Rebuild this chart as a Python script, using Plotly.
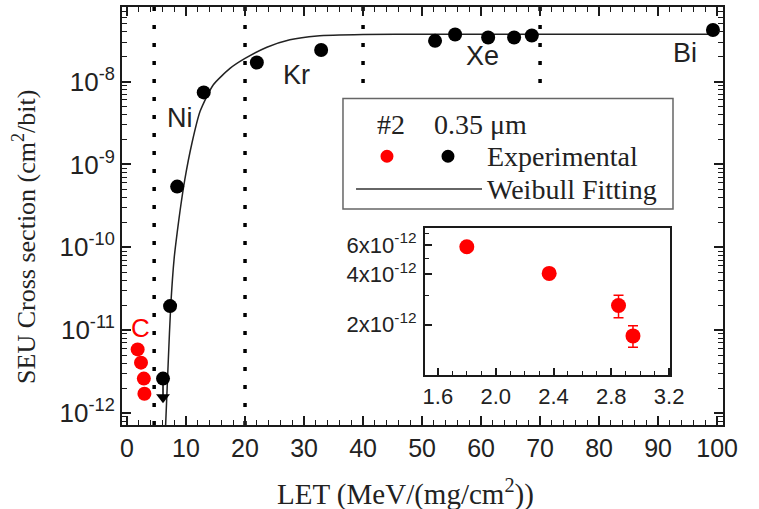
import plotly.graph_objects as go

# ---------------- data ----------------
# Black experimental points (0.35 um device)
black_let = [7.3, 8.5, 13.0, 22.0, 32.9, 52.2, 55.6, 61.2, 65.6, 68.6, 99.3]
black_sigma = [1.95e-11, 5.4e-10, 7.4e-9, 1.7e-8, 2.4e-8, 3.1e-8, 3.7e-8, 3.4e-8, 3.4e-8, 3.6e-8, 4.2e-8]

# Upper-limit point (point with downward arrow)
limit_let = [6.1]
limit_sigma = [2.6e-12]
limit_arrow_sigma = [1.55e-12]

# Red (#2, carbon) points
red_let = [1.80, 2.37, 2.85, 2.95]
red_sigma = [5.85e-12, 4.05e-12, 2.6e-12, 1.71e-12]
red_err_plus = [0.0, 0.0, 0.4e-12, 0.26e-12]
red_err_minus = [0.0, 0.0, 0.4e-12, 0.25e-12]

# Weibull fitting curve
fit_let = [6.5, 7.0, 7.4, 8.0, 8.5, 9.0, 9.8, 11.0, 12.4, 14.6, 17.5, 20.0, 23.7, 27.6, 32.2, 40.0, 50.0, 100.0]
fit_sigma = [6.0e-13, 4.4e-12, 1.9e-11, 7.5e-11, 1.5e-10, 2.8e-10, 6.6e-10, 1.8e-9, 4.4e-9,
             9.1e-9, 1.45e-8, 1.9e-8, 2.6e-8, 3.2e-8, 3.56e-8, 3.7e-8, 3.72e-8, 3.72e-8]

# Ion regions
ion_boundaries = [4.6, 20.0, 40.0, 70.0]
ion_labels = ["Ni", "Kr", "Xe", "Bi"]

# Tick labels
main_y_tickvals = [1e-12, 1e-11, 1e-10, 1e-9, 1e-8]
main_y_ticktext = ["10<sup>-12</sup>", "10<sup>-11</sup>", "10<sup>-10</sup>", "10<sup>-9</sup>", "10<sup>-8</sup>"]
inset_y_tickvals = [2e-12, 4e-12, 6e-12]
inset_y_ticktext = ["2x10<sup>-12</sup>", "4x10<sup>-12</sup>", "6x10<sup>-12</sup>"]

SERIF = "Liberation Serif"
SANS = "Liberation Sans"
AX = "#1a1a1a"

fig = go.Figure()

# Weibull fit
fig.add_trace(go.Scatter(x=fit_let, y=fit_sigma, mode="lines",
                         line=dict(color="#222222", width=1.5, shape="spline", smoothing=0.6),
                         showlegend=False, xaxis="x", yaxis="y"))
# Upper limit arrow
fig.add_trace(go.Scatter(x=limit_let * 2, y=limit_sigma + limit_arrow_sigma, mode="lines",
                         line=dict(color="black", width=1.5), showlegend=False))
fig.add_trace(go.Scatter(x=limit_let, y=limit_arrow_sigma, mode="markers",
                         marker=dict(symbol="triangle-down", size=12, color="black"), showlegend=False))
fig.add_trace(go.Scatter(x=limit_let, y=limit_sigma, mode="markers",
                         marker=dict(size=14, color="black"), showlegend=False))
# Black points
fig.add_trace(go.Scatter(x=black_let, y=black_sigma, mode="markers",
                         marker=dict(size=14, color="black"), showlegend=False))
# Red points in main plot
fig.add_trace(go.Scatter(x=red_let, y=red_sigma, mode="markers",
                         marker=dict(size=14, color="#ff0000"), showlegend=False))
# Inset red points
fig.add_trace(go.Scatter(x=red_let, y=red_sigma, mode="markers",
                         marker=dict(size=15, color="#ff0000"),
                         error_y=dict(type="data", array=red_err_plus, arrayminus=red_err_minus,
                                      color="#ff0000", thickness=1.5, width=5),
                         showlegend=False, xaxis="x2", yaxis="y2"))

# Minor ticks for log axes
minor_vals = [k * 10.0 ** d for d in range(-13, -7) for k in range(2, 10)]
inset_minor = [k * 1e-12 for k in (1, 3, 5, 7)]

fig.update_layout(
    width=759, height=509,
    margin=dict(l=122, r=36, t=5, b=84),
    paper_bgcolor="white", plot_bgcolor="white",
    showlegend=False,
    xaxis=dict(range=[-0.85, 101.0], domain=[0, 1], tickmode="linear", tick0=0, dtick=10,
               ticks="inside", ticklen=9, tickwidth=1.5, tickcolor=AX,
               minor=dict(dtick=2, ticks="inside", ticklen=5, tickwidth=1.2, tickcolor=AX),
               showline=True, linecolor=AX, linewidth=2, mirror="ticks",
               showgrid=False, zeroline=False, ticklabelstandoff=0,
               tickfont=dict(family=SANS, size=25, color="#222")),
    yaxis=dict(type="log", range=[-12.145, -7.1], domain=[0, 1],
               tickmode="array", tickvals=main_y_tickvals, ticktext=main_y_ticktext,
               ticks="inside", ticklen=9, tickwidth=1.5, tickcolor=AX,
               minor=dict(tickvals=minor_vals, ticks="inside", ticklen=5, tickwidth=1.2, tickcolor=AX),
               showline=True, linecolor=AX, linewidth=2, mirror="ticks",
               showgrid=False, zeroline=False, ticklabelstandoff=0,
               tickfont=dict(family=SANS, size=26, color="#222")),
    xaxis2=dict(range=[1.51, 3.207], domain=[0.504, 0.912], anchor="y2",
                tickmode="linear", tick0=1.6, dtick=0.4, tickformat=".1f",
                ticks="inside", ticklen=7, tickwidth=1.5, tickcolor=AX,
                minor=dict(dtick=0.1, tick0=1.6, ticks="inside", ticklen=4, tickwidth=1.2, tickcolor=AX),
                showline=True, linecolor=AX, linewidth=2, mirror=True,
                showgrid=False, zeroline=False, ticklabelstandoff=0,
                tickfont=dict(family=SANS, size=22, color="#222")),
    yaxis2=dict(type="log", range=[-12.003, -11.121], domain=[0.119, 0.471], anchor="x2",
                tickmode="array", tickvals=inset_y_tickvals, ticktext=inset_y_ticktext,
                ticks="inside", ticklen=7, tickwidth=1.5, tickcolor=AX,
                minor=dict(tickvals=inset_minor, ticks="inside", ticklen=4, tickwidth=1.2, tickcolor=AX),
                showline=True, linecolor=AX, linewidth=2, mirror=True,
                showgrid=False, zeroline=False, ticklabelstandoff=2,
                tickfont=dict(family=SANS, size=22, color="#222")),
)

# Ion boundary dotted lines
shapes = []
for i, xb in enumerate(ion_boundaries):
    y0 = 0.0 if i < 2 else 0.817
    shapes.append(dict(type="line", xref="x", yref="paper", x0=xb, x1=xb, y0=1.0, y1=y0,
                       line=dict(color="black", width=3.5, dash="4px,14px"), layer="below"))

# Legend box
shapes.append(dict(type="rect", xref="paper", yref="paper", x0=0.3677, x1=0.9168, y0=0.5167, y1=0.781,
                   line=dict(color="#666666", width=1.5), fillcolor="white"))
# Legend line
shapes.append(dict(type="line", xref="paper", yref="paper", x0=0.3894, x1=0.599, y0=0.5643, y1=0.5643,
                   line=dict(color="#333333", width=1.5)))
# Legend dots
for xc, col in [(0.4409, "#ff0000"), (0.5424, "black")]:
    shapes.append(dict(type="circle", xref="paper", yref="paper", xsizemode="pixel", ysizemode="pixel",
                       xanchor=xc, yanchor=0.6429, x0=-6.5, x1=6.5, y0=-6.5, y1=6.5,
                       fillcolor=col, line=dict(color=col, width=0)))
fig.update_layout(shapes=shapes)

ann = []
# Ion labels
ion_label_pos = [(9.0, -8.44), (28.8, -7.925), (60.2, -7.697), (94.6, -7.66)]
for lab, (lx, ly) in zip(ion_labels, ion_label_pos):
    ann.append(dict(x=lx, y=ly, xref="x", yref="y", text=lab, showarrow=False,
                    xanchor="center", yanchor="middle",
                    font=dict(family=SANS, size=27, color="#222")))
ann.append(dict(x=2.2, y=-10.97, xref="x", yref="y", text="C", showarrow=False,
                xanchor="center", yanchor="middle",
                font=dict(family=SANS, size=26, color="#ff0000")))
# Legend texts
ann.append(dict(x=0.4476, y=0.719, xref="paper", yref="paper", text="#2", showarrow=False,
                xanchor="center", yanchor="middle", font=dict(family=SERIF, size=28, color="#222")))
ann.append(dict(x=0.5158, y=0.719, xref="paper", yref="paper", text="0.35 μm", showarrow=False,
                xanchor="left", yanchor="middle", font=dict(family=SERIF, size=28, color="#222")))
ann.append(dict(x=0.604, y=0.6429, xref="paper", yref="paper", text="Experimental", showarrow=False,
                xanchor="left", yanchor="middle", font=dict(family=SERIF, size=28, color="#222")))
ann.append(dict(x=0.604, y=0.5643, xref="paper", yref="paper", text="Weibull Fitting", showarrow=False,
                xanchor="left", yanchor="middle", font=dict(family=SERIF, size=28, color="#222")))
# Axis titles
ann.append(dict(x=0.4725, y=-0.162, xref="paper", yref="paper", text="LET (MeV/(mg/cm<sup>2</sup>))",
                showarrow=False, xanchor="center", yanchor="middle",
                font=dict(family=SERIF, size=29, color="#222")))
ann.append(dict(x=-0.1614, y=0.45, xref="paper", yref="paper", text="SEU Cross section (cm<sup>2</sup>/bit)",
                showarrow=False, textangle=-90, xanchor="center", yanchor="middle",
                font=dict(family=SERIF, size=26, color="#222")))
fig.update_layout(annotations=ann)

fig.write_html("out.html", config={"displayModeBar": False},
               post_script="document.body.style.margin='0';document.body.style.overflow='hidden';")
